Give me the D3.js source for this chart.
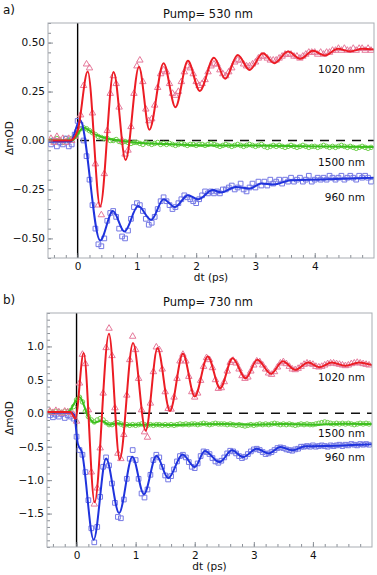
<!DOCTYPE html>
<html>
<head>
<meta charset="utf-8">
<script src="https://cdn.jsdelivr.net/npm/d3@7"></script>
<style>
  body { margin: 0; background: #fff; }
  text { font-family: "DejaVu Sans", sans-serif; fill: #111; }
</style>
</head>
<body>
<div id="chart"></div>
<script>
// delay times (ps) of the measured points, shared by every trace
const tData = [
  -0.45, -0.4, -0.35, -0.3, -0.25, -0.2, -0.15, -0.1, -0.05,
  0, 0.05, 0.1, 0.15, 0.2, 0.25, 0.3, 0.35, 0.4, 0.45,
  0.5, 0.55, 0.6, 0.65, 0.7, 0.75, 0.8, 0.85, 0.9, 0.95,
  1, 1.05, 1.1, 1.15, 1.2, 1.25, 1.3, 1.35, 1.4, 1.45,
  1.5, 1.55, 1.6, 1.65, 1.7, 1.75, 1.8, 1.85, 1.9, 1.95,
  2, 2.05, 2.1, 2.15, 2.2, 2.25, 2.3, 2.35, 2.4, 2.45,
  2.5, 2.55, 2.6, 2.65, 2.7, 2.75, 2.8, 2.85, 2.9, 2.95,
  3, 3.05, 3.1, 3.15, 3.2, 3.25, 3.3, 3.35, 3.4, 3.45,
  3.5, 3.55, 3.6, 3.65, 3.7, 3.75, 3.8, 3.85, 3.9, 3.95,
  4, 4.05, 4.1, 4.15, 4.2, 4.25, 4.3, 4.35, 4.4, 4.45,
  4.5, 4.55, 4.6, 4.65, 4.7, 4.75, 4.8, 4.85, 4.9, 4.95
];

// ---- a) pump 530 nm : measured points ----
const a1020 = [
  0.01, -0.01, 0.02, 0.00, 0.01, -0.01, 0.01, 0.00, 0.02,
  0.06, 0.13, 0.28, 0.39, 0.37, 0.14, -0.12, -0.33, -0.38, -0.17,
  0.05, 0.24, 0.33, 0.29, 0.17, 0.00, -0.07, -0.05, 0.07, 0.24,
  0.38, 0.41, 0.30, 0.16, 0.10, 0.11, 0.18, 0.27, 0.34, 0.36,
  0.35, 0.29, 0.24, 0.23, 0.25, 0.30, 0.35, 0.38, 0.37, 0.34,
  0.30, 0.28, 0.29, 0.31, 0.35, 0.38, 0.39, 0.39, 0.36, 0.34,
  0.33, 0.35, 0.37, 0.40, 0.41, 0.41, 0.39, 0.38, 0.38, 0.39,
  0.40, 0.42, 0.43, 0.43, 0.42, 0.41, 0.41, 0.41, 0.42, 0.43,
  0.44, 0.44, 0.44, 0.43, 0.43, 0.42, 0.43, 0.44, 0.45, 0.45,
  0.45, 0.44, 0.45, 0.44, 0.45, 0.45, 0.46, 0.46, 0.47, 0.46,
  0.47, 0.46, 0.46, 0.47, 0.46, 0.47, 0.47, 0.46, 0.47, 0.46
];
const a1500 = [
  0.00, -0.01, 0.01, 0.00, -0.01, 0.01, 0.00, 0.01, 0.02,
  0.04, 0.06, 0.065, 0.06, 0.05, 0.04, 0.03, 0.02, 0.015, 0.01,
  0.01, 0.00, 0.00, 0.005, -0.005, -0.01, -0.005, -0.01, -0.015, -0.01,
  -0.01, -0.015, -0.02, -0.01, -0.015, -0.02, -0.015, -0.01, -0.02, -0.015,
  -0.02, -0.015, -0.02, -0.025, -0.02, -0.015, -0.02, -0.025, -0.02, -0.02,
  -0.025, -0.02, -0.02, -0.025, -0.02, -0.015, -0.02, -0.025, -0.03, -0.025,
  -0.02, -0.025, -0.03, -0.025, -0.02, -0.025, -0.03, -0.025, -0.02, -0.025,
  -0.03, -0.025, -0.02, -0.03, -0.035, -0.03, -0.025, -0.03, -0.025, -0.03,
  -0.035, -0.03, -0.025, -0.03, -0.035, -0.03, -0.025, -0.03, -0.035, -0.03,
  -0.03, -0.035, -0.03, -0.025, -0.03, -0.035, -0.03, -0.035, -0.03, -0.025,
  -0.03, -0.035, -0.03, -0.035, -0.04, -0.035, -0.03, -0.035, -0.04, -0.035
];
const a960 = [
  -0.02, 0.00, -0.03, -0.01, -0.02, 0.01, -0.03, -0.02, 0.03,
  0.10, 0.08, 0.00, -0.08, -0.20, -0.33, -0.45, -0.53, -0.54, -0.50,
  -0.41, -0.37, -0.36, -0.39, -0.45, -0.49, -0.50, -0.46, -0.40, -0.34,
  -0.32, -0.33, -0.36, -0.40, -0.43, -0.42, -0.39, -0.35, -0.31, -0.29,
  -0.31, -0.33, -0.35, -0.34, -0.32, -0.30, -0.28, -0.29, -0.30, -0.31,
  -0.32, -0.30, -0.28, -0.26, -0.27, -0.26, -0.27, -0.26, -0.27, -0.25,
  -0.25, -0.24, -0.23, -0.25, -0.24, -0.22, -0.25, -0.26, -0.24, -0.22,
  -0.24, -0.21, -0.23, -0.21, -0.23, -0.20, -0.22, -0.21, -0.20, -0.22,
  -0.20, -0.21, -0.19, -0.21, -0.20, -0.19, -0.21, -0.20, -0.18, -0.21,
  -0.20, -0.19, -0.20, -0.19, -0.20, -0.18, -0.19, -0.20, -0.19, -0.18,
  -0.20, -0.19, -0.18, -0.19, -0.20, -0.18, -0.19, -0.18, -0.19, -0.21
];

// ---- a) fitted curves, [t, value] at the turning points ----
const a1020Fit = [[-0.5, 0], [-0.12, 0], [0, 0.05], [0.17, 0.352], [0.38, -0.337], [0.607, 0.35],
  [0.81, -0.1], [1.035, 0.377], [1.21, 0.055], [1.45, 0.395], [1.65, 0.17], [1.86, 0.407],
  [2.06, 0.253], [2.3, 0.423], [2.49, 0.315], [2.7, 0.437], [2.9, 0.36], [3.125, 0.445],
  [3.32, 0.395], [3.55, 0.454], [3.76, 0.417], [3.97, 0.458], [4.17, 0.434], [4.39, 0.468],
  [4.6, 0.455], [4.8, 0.468], [5, 0.465]];
const a1500Fit = [[-0.5, 0], [-0.1, 0], [0.1, 0.065], [0.3, 0.03], [0.5, 0.01], [0.7, 0],
  [1, -0.012], [1.5, -0.018], [2, -0.024], [3, -0.026], [4, -0.03], [5, -0.033]];
const a960Fit = [[-0.5, -0.005], [-0.12, -0.005], [0.04, 0.105], [0.38, -0.51], [0.595, -0.36],
  [0.79, -0.465], [1.02, -0.335], [1.24, -0.405], [1.45, -0.3], [1.64, -0.34], [1.86, -0.279],
  [2.03, -0.3], [2.28, -0.253], [2.42, -0.265], [2.67, -0.237], [2.9, -0.245], [3.1, -0.22],
  [3.3, -0.225], [3.6, -0.203], [4.1, -0.199], [5, -0.19]];

// ---- b) pump 730 nm : measured points ----
const b1020 = [
  0.03, 0.01, 0.04, 0.02, 0.00, 0.03, 0.02, 0.01, -0.02,
  -0.12, 0.45, 0.88, 0.74, 0.05, -0.88, -1.36, -1.12, -0.52, 0.30,
  0.98, 1.27, 0.86, 0.08, -0.60, -0.68, -0.32, 0.27, 0.80, 1.15,
  0.95, 0.52, 0.05, -0.28, -0.36, 0.15, 0.62, 0.99, 0.95, 0.66,
  0.32, 0.07, 0.06, 0.24, 0.52, 0.78, 0.88, 0.78, 0.55, 0.32,
  0.24, 0.30, 0.49, 0.70, 0.83, 0.80, 0.68, 0.50, 0.37, 0.38,
  0.47, 0.63, 0.76, 0.79, 0.75, 0.66, 0.56, 0.52, 0.54, 0.63,
  0.72, 0.78, 0.77, 0.72, 0.66, 0.60, 0.58, 0.62, 0.69, 0.75,
  0.77, 0.74, 0.70, 0.66, 0.65, 0.67, 0.70, 0.73, 0.75, 0.74,
  0.73, 0.70, 0.69, 0.70, 0.72, 0.74, 0.75, 0.75, 0.74, 0.73,
  0.72, 0.71, 0.72, 0.74, 0.75, 0.76, 0.75, 0.74, 0.73, 0.72
];
const b1500 = [
  0.02, 0.01, 0.03, 0.02, 0.01, 0.03, 0.02, 0.04, 0.10,
  0.20, 0.24, 0.17, 0.03, -0.05, -0.10, -0.13, -0.10, -0.08, -0.10,
  -0.14, -0.17, -0.17, -0.15, -0.14, -0.16, -0.18, -0.17, -0.18, -0.17,
  -0.18, -0.17, -0.16, -0.17, -0.18, -0.17, -0.18, -0.17, -0.17, -0.18,
  -0.17, -0.18, -0.17, -0.18, -0.17, -0.16, -0.17, -0.16, -0.17, -0.16,
  -0.16, -0.17, -0.16, -0.15, -0.16, -0.17, -0.16, -0.15, -0.16, -0.16,
  -0.16, -0.17, -0.16, -0.17, -0.18, -0.17, -0.18, -0.19, -0.18, -0.17,
  -0.18, -0.17, -0.16, -0.17, -0.16, -0.17, -0.16, -0.15, -0.16, -0.17,
  -0.16, -0.17, -0.16, -0.17, -0.18, -0.17, -0.16, -0.17, -0.16, -0.17,
  -0.17, -0.16, -0.15, -0.14, -0.13, -0.14, -0.15, -0.16, -0.15, -0.16,
  -0.15, -0.16, -0.15, -0.16, -0.17, -0.16, -0.15, -0.16, -0.15, -0.16
];
const b960 = [
  -0.03, -0.06, -0.02, -0.05, -0.01, -0.07, -0.03, -0.05, -0.08,
  -0.35, -0.55, -0.62, -0.88, -1.30, -1.72, -1.93, -1.70, -1.25, -0.80,
  -0.66, -0.78, -1.05, -1.34, -1.55, -1.57, -1.29, -0.98, -0.68, -0.55,
  -0.70, -0.98, -1.20, -1.26, -1.14, -0.92, -0.70, -0.62, -0.66, -0.80,
  -0.93, -0.99, -0.94, -0.84, -0.72, -0.64, -0.62, -0.66, -0.73, -0.80,
  -0.82, -0.75, -0.64, -0.57, -0.58, -0.61, -0.67, -0.72, -0.74, -0.71,
  -0.66, -0.60, -0.56, -0.57, -0.60, -0.64, -0.67, -0.65, -0.61, -0.57,
  -0.54, -0.53, -0.55, -0.58, -0.61, -0.60, -0.58, -0.55, -0.52, -0.51,
  -0.52, -0.54, -0.55, -0.56, -0.54, -0.53, -0.50, -0.50, -0.49, -0.50,
  -0.48, -0.50, -0.49, -0.48, -0.49, -0.50, -0.48, -0.49, -0.48, -0.47,
  -0.49, -0.47, -0.48, -0.46, -0.47, -0.48, -0.46, -0.47, -0.46, -0.47
];

// ---- b) fitted curves ----
const b1020Fit = [[-0.5, 0.02], [-0.1, 0.02], [-0.02, -0.08], [0.12, 0.9], [0.306, -1.33],
  [0.549, 1.19], [0.73, -0.69], [0.956, 1.05], [1.17, -0.26], [1.37, 0.975], [1.58, 0.035],
  [1.8, 0.89], [2, 0.25], [2.22, 0.85], [2.43, 0.374], [2.64, 0.823], [2.86, 0.524], [3.06, 0.8],
  [3.29, 0.59], [3.49, 0.78], [3.7, 0.65], [3.92, 0.76], [4.11, 0.69], [4.32, 0.76], [4.55, 0.71],
  [4.78, 0.76], [5, 0.72]];
const b1500Fit = [[-0.5, 0.02], [-0.15, 0.02], [0.05, 0.245], [0.2, -0.05], [0.3, -0.14],
  [0.42, -0.11], [0.55, -0.17], [0.68, -0.15], [0.85, -0.175], [1.2, -0.17], [1.6, -0.175],
  [2, -0.165], [2.5, -0.16], [3, -0.17], [3.5, -0.16], [4, -0.17], [4.5, -0.155], [5, -0.16]];
const b960Fit = [[-0.5, 0.01], [-0.1, 0.01], [-0.04, -0.02], [0.02, -0.45], [0.09, -0.58],
  [0.29, -1.89], [0.5, -0.675], [0.72, -1.49], [0.945, -0.65], [1.14, -1.21], [1.353, -0.635],
  [1.55, -0.97], [1.795, -0.615], [2, -0.805], [2.17, -0.565], [2.42, -0.73], [2.63, -0.554],
  [2.82, -0.654], [3.05, -0.53], [3.25, -0.6], [3.45, -0.505], [3.65, -0.554], [3.87, -0.494],
  [4.4, -0.485], [5, -0.465]];

// ticks
const xTicks = [0, 1, 2, 3, 4];
const aYTicks = [-0.5, -0.25, 0, 0.25, 0.5];
const bYTicks = [-1.5, -1.0, -0.5, 0, 0.5, 1.0];

const svg = d3.select('#chart').append('svg')
    .attr('width', 377)
    .attr('height', 575);

const styles = {
    red:   {line: '#ec1c24', mark: '#e5789a', shape: d3.symbolTriangle, size: 18},
    green: {line: '#3cbf1e', mark: '#6fd04c', shape: d3.symbolCircle, size: 16},
    blue:  {line: '#1f33dd', mark: '#7478e4', shape: d3.symbolSquare, size: 22}
};

function drawPanel(p, id) {
    const x = d3.scaleLinear().domain([-0.5, 5]).range([p.left, p.right]);
    const y = d3.scaleLinear().domain(p.yDomain).range([p.bottom, p.top]);

    const g = svg.append('g');

    g.append('clipPath').attr('id', 'clip' + id)
        .append('rect')
        .attr('x', p.left).attr('y', p.top)
        .attr('width', p.right - p.left).attr('height', p.bottom - p.top);

    const plot = g.append('g').attr('clip-path', 'url(#clip' + id + ')');

    // zero line and time zero
    plot.append('line')
        .attr('x1', x(-0.5)).attr('x2', x(5))
        .attr('y1', y(0)).attr('y2', y(0))
        .attr('stroke', '#111').attr('stroke-width', 1.4)
        .attr('stroke-dasharray', '9,7');
    plot.append('line')
        .attr('x1', x(0)).attr('x2', x(0))
        .attr('y1', p.top).attr('y2', p.bottom)
        .attr('stroke', '#000').attr('stroke-width', 1.4);

    // measured points
    p.series.forEach(s => {
        const st = styles[s.color];
        plot.append('g').selectAll('path')
            .data(s.values)
            .enter().append('path')
            .attr('d', d3.symbol().type(st.shape).size(st.size))
            .attr('transform', (d, i) => 'translate(' + x(tData[i]) + ',' + y(d) + ')')
            .attr('fill', 'none')
            .attr('stroke', st.mark)
            .attr('stroke-width', 1);
    });

    // fits
    const createLine = d3.line()
        .x(d => x(d[0]))
        .y(d => y(d[1]))
        .curve(d3.curveMonotoneX);
    p.series.forEach(s => {
        plot.append('path')
            .attr('d', createLine(s.fit))
            .attr('fill', 'none')
            .attr('stroke', styles[s.color].line)
            .attr('stroke-width', 2);
    });

    // axes with inward ticks
    const yAxis = d3.axisLeft(y).tickValues(p.yTicks).tickFormat(d3.format(p.fmt))
        .tickSize(-5).tickPadding(3);
    const yMinor = d3.axisLeft(y).tickValues(p.yMinor).tickFormat('').tickSize(-3);
    const xAxis = d3.axisBottom(x).tickValues(xTicks).tickFormat(d3.format('d'))
        .tickSize(-5).tickPadding(5);
    const xMinor = d3.axisBottom(x).tickValues(d3.range(-2, 25).map(d => d / 5)).tickFormat('').tickSize(-3);

    [
        [yMinor, 'translate(' + p.left + ',0)'],
        [yAxis, 'translate(' + p.left + ',0)'],
        [xMinor, 'translate(0,' + p.bottom + ')'],
        [xAxis, 'translate(0,' + p.bottom + ')']
    ].forEach(([ax, tr]) => {
        const a = g.append('g').attr('transform', tr).call(ax);
        a.select('.domain').remove();
        a.selectAll('line').attr('stroke', '#8a8f96');
        a.selectAll('text').attr('font-size', 10.5).attr('fill', '#111')
            .attr('font-family', '"DejaVu Sans", sans-serif');
    });

    g.append('rect')
        .attr('x', p.left).attr('y', p.top)
        .attr('width', p.right - p.left).attr('height', p.bottom - p.top)
        .attr('fill', 'none').attr('stroke', '#a9adb3').attr('stroke-width', 1);

    // texts
    g.append('text').attr('x', 3).attr('y', p.letterY)
        .attr('font-size', 12).text(p.letter);
    g.append('text').attr('x', 208).attr('y', p.titleY)
        .attr('text-anchor', 'middle').attr('font-size', 11.5).text(p.title);
    g.append('text')
        .attr('transform', 'translate(13,' + p.yLabelY + ') rotate(-90)')
        .attr('text-anchor', 'middle').attr('font-size', 10.5).text('ΔmOD');
    g.append('text').attr('x', (p.left + p.right) / 2).attr('y', p.xLabelY)
        .attr('text-anchor', 'middle').attr('font-size', 10.5).text('dt (ps)');
    p.series.forEach(s => {
        g.append('text').attr('x', 365).attr('y', s.labelY)
            .attr('text-anchor', 'end').attr('font-size', 10.5).text(s.name);
    });
}

drawPanel({
    left: 48, right: 374, top: 23, bottom: 258,
    yDomain: [-0.6, 0.6], yTicks: aYTicks, fmt: '.2f',
    yMinor: d3.range(-12, 13).map(d => d * 0.05),
    letter: 'a)', letterY: 14, title: 'Pump= 530 nm', titleY: 18,
    yLabelY: 138, xLabelY: 281,
    series: [
        {name: '1500 nm', color: 'green', values: a1500, fit: a1500Fit, labelY: 166},
        {name: '960 nm', color: 'blue', values: a960, fit: a960Fit, labelY: 201},
        {name: '1020 nm', color: 'red', values: a1020, fit: a1020Fit, labelY: 73}
    ]
}, 'a');

drawPanel({
    left: 47, right: 372, top: 313, bottom: 547,
    yDomain: [-2.0, 1.5], yTicks: bYTicks, fmt: '.1f',
    yMinor: d3.range(-20, 16).map(d => d * 0.1),
    letter: 'b)', letterY: 304, title: 'Pump= 730 nm', titleY: 306,
    yLabelY: 418, xLabelY: 570,
    series: [
        {name: '1500 nm', color: 'green', values: b1500, fit: b1500Fit, labelY: 437},
        {name: '960 nm', color: 'blue', values: b960, fit: b960Fit, labelY: 461},
        {name: '1020 nm', color: 'red', values: b1020, fit: b1020Fit, labelY: 381}
    ]
}, 'b');
</script>
</body>
</html>
